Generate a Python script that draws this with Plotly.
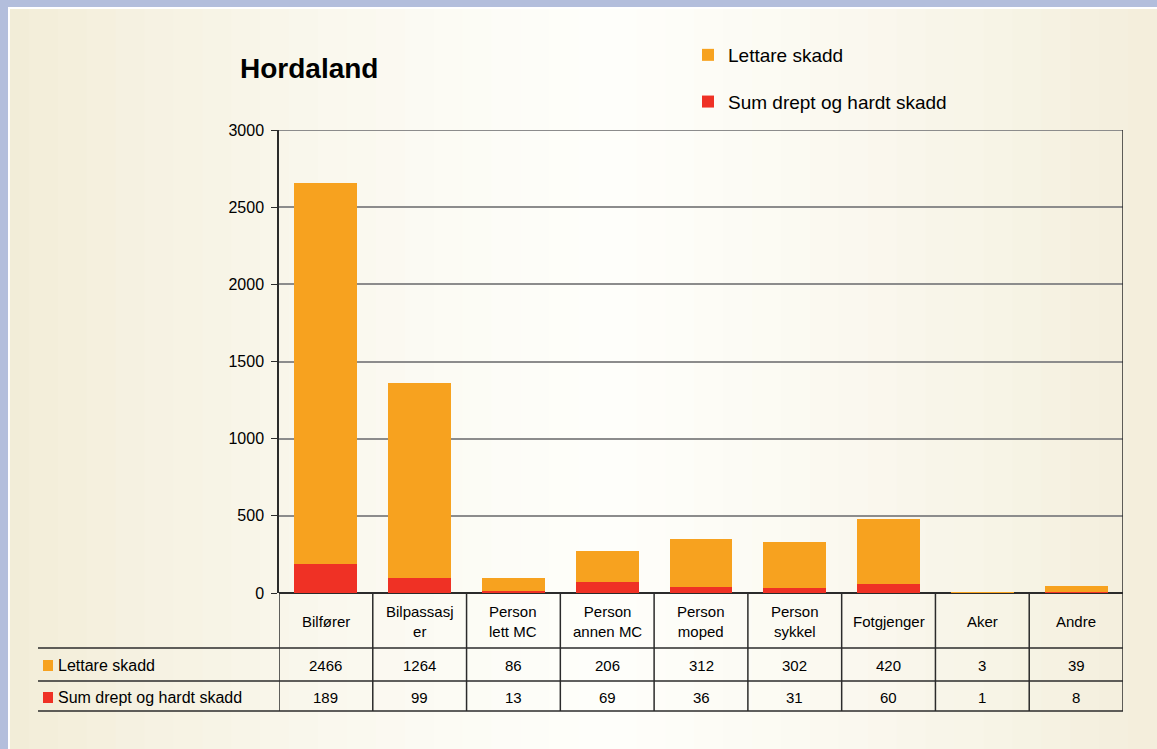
import plotly.graph_objects as go

# data
categories = ["Bilfører", "Bilpassasjer", "Person lett MC", "Person annen MC",
              "Person moped", "Person sykkel", "Fotgjenger", "Aker", "Andre"]
header_labels = ["Bilfører", "Bilpassasj<br>er", "Person<br>lett MC", "Person<br>annen MC",
                 "Person<br>moped", "Person<br>sykkel", "Fotgjenger", "Aker", "Andre"]
lettare = [2466, 1264, 86, 206, 312, 302, 420, 3, 39]
drept_hardt = [189, 99, 13, 69, 36, 31, 60, 1, 8]
y_ticks = [0, 500, 1000, 1500, 2000, 2500, 3000]

ORANGE = "#F7A21F"
RED = "#EF3125"
LINE = "#2b2b2b"
GRID = "#8C8C8C"
FONT = "Liberation Sans, Arial, sans-serif"

W, H = 1157, 749
L, R, T, B = 279, 34, 130, 156
pw, ph = W - L - R, H - T - B


def px_x(x):
    return (x - L) / pw


def px_y(y):
    return (H - B - y) / ph


x_idx = list(range(len(categories)))

fig = go.Figure()
fig.add_trace(go.Bar(x=x_idx, y=drept_hardt, name="Sum drept og hardt skadd",
                     marker=dict(color=RED, line=dict(width=0)), width=0.67,
                     legendgroup="b", legendrank=2))
fig.add_trace(go.Bar(x=x_idx, y=lettare, name="Lettare skadd",
                     marker=dict(color=ORANGE, line=dict(width=0)), width=0.67,
                     legendgroup="a", legendrank=1))

shapes = []
# background gradient strips
n = 40
for i in range(n):
    t = (i + 0.5) / n
    d = abs(t - 0.52) / 0.52
    k = min(1.0, d) ** 1.3
    c0 = (254, 254, 250)
    c1 = (242, 236, 215)
    col = "rgb(%d,%d,%d)" % tuple(round(a + (b - a) * k) for a, b in zip(c0, c1))
    shapes.append(dict(type="rect", xref="paper", yref="paper",
                       x0=px_x(W * i / n), x1=px_x(W * (i + 1) / n + 1),
                       y0=px_y(H), y1=px_y(0), fillcolor=col, line_width=0, layer="below"))
# blue frame
shapes.append(dict(type="rect", xref="paper", yref="paper", x0=px_x(0), x1=px_x(W),
                   y0=px_y(7), y1=px_y(0), fillcolor="#B3BEDC", line_width=0, layer="below"))
shapes.append(dict(type="rect", xref="paper", yref="paper", x0=px_x(0), x1=px_x(8),
                   y0=px_y(H), y1=px_y(0), fillcolor="#B3BEDC", line_width=0, layer="below"))
shapes.append(dict(type="rect", xref="paper", yref="paper", x0=px_x(8), x1=px_x(W),
                   y0=px_y(9), y1=px_y(7), fillcolor="white", line_width=0, layer="below"))
shapes.append(dict(type="rect", xref="paper", yref="paper", x0=px_x(8), x1=px_x(10),
                   y0=px_y(H), y1=px_y(7), fillcolor="white", line_width=0, layer="below"))

# top gridline at 3000
shapes.append(dict(type="line", xref="x", yref="y", x0=-0.5, x1=8.5, y0=y_ticks[-1],
                   y1=y_ticks[-1], line=dict(color=GRID, width=2), layer="below"))

# data table lines
row1, row2, row3 = px_y(648), px_y(681), px_y(711)
for yy in (row1, row2, row3):
    shapes.append(dict(type="line", xref="paper", yref="paper", x0=px_x(38), x1=1,
                       y0=yy, y1=yy, line=dict(color=LINE, width=1.5)))
for i in range(len(categories) + 1):
    shapes.append(dict(type="line", xref="x", yref="paper", x0=i - 0.5, x1=i - 0.5,
                       y0=row3, y1=1 if i == len(categories) else 0,
                       line=dict(color=LINE, width=1.5)))

tfont = dict(size=15, color="black", family=FONT)
annotations = []
for i, lab in enumerate(header_labels):
    annotations.append(dict(x=i, y=px_y(621), xref="x", yref="paper", text=lab,
                            showarrow=False, font=tfont, xanchor="center", yanchor="middle"))
    annotations.append(dict(x=i, y=px_y(665), xref="x", yref="paper", text=str(lettare[i]),
                            showarrow=False, font=tfont, xanchor="center", yanchor="middle"))
    annotations.append(dict(x=i, y=px_y(697), xref="x", yref="paper", text=str(drept_hardt[i]),
                            showarrow=False, font=tfont, xanchor="center", yanchor="middle"))

for yc, col, txt in ((665, ORANGE, "Lettare skadd"), (697, RED, "Sum drept og hardt skadd")):
    shapes.append(dict(type="rect", xref="paper", yref="paper", x0=px_x(43), x1=px_x(53),
                       y0=px_y(yc + 6), y1=px_y(yc - 5), fillcolor=col, line_width=0))
    annotations.append(dict(x=px_x(56), y=px_y(yc), xref="paper", yref="paper", text=txt,
                            showarrow=False, xanchor="left", yanchor="middle",
                            font=dict(size=16, color="black", family=FONT)))

fig.update_layout(
    width=W, height=H,
    margin=dict(l=L, r=R, t=T, b=B),
    paper_bgcolor="#F4EFDC", plot_bgcolor="rgba(0,0,0,0)",
    barmode="stack",
    title=dict(text="<b>Hordaland</b>", x=240 / W, xanchor="left", y=1 - 68 / H,
               yanchor="middle", font=dict(size=28, color="black", family=FONT)),
    legend=dict(x=px_x(688), y=px_y(36), xanchor="left", yanchor="top",
                font=dict(size=19, color="black", family=FONT),
                bgcolor="rgba(0,0,0,0)", tracegroupgap=19, traceorder="grouped"),
    xaxis=dict(range=[-0.5, 8.5], showticklabels=False, showgrid=False, zeroline=False,
               showline=False, fixedrange=True),
    yaxis=dict(range=[0, 3000], tickvals=y_ticks, ticks="outside", ticklen=6,
               tickcolor=LINE, showline=True, linecolor=LINE, linewidth=1.5,
               gridcolor=GRID, gridwidth=2, zeroline=True, zerolinecolor=LINE,
               zerolinewidth=1.5, ticklabelstandoff=4,
               tickfont=dict(size=16, color="black", family=FONT)),
    shapes=shapes, annotations=annotations, bargap=0.33,
)

fig.write_html("out.html", config={"displayModeBar": False},
               post_script="document.body.style.margin='0';")
